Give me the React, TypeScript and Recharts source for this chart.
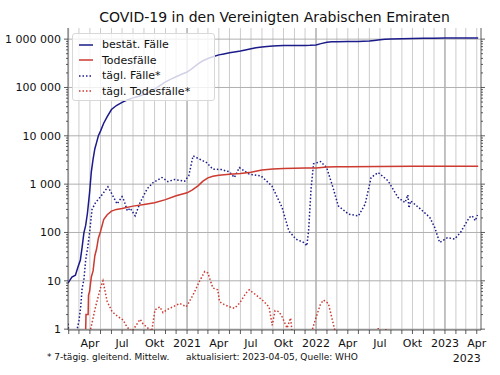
import React from "react";
import { LineChart, Line, XAxis, YAxis, ReferenceLine } from "recharts";

const FONT = "DejaVu Sans, Verdana, sans-serif";
const NAVY = "#1b1b8a";
const RED = "#cc3a30";

const DAY = 86400000;
const T0 = Date.UTC(2020, 0, 1);
const day = (s: string) => Math.round((Date.parse(s) - T0) / DAY);

// bestät. Fälle (kumuliert)
const confirmed: [string, number][] = [
  ["2020-01-30", 9], ["2020-02-10", 12], ["2020-02-20", 13], ["2020-02-27", 19],
  ["2020-03-05", 27], ["2020-03-10", 50], ["2020-03-15", 98], ["2020-03-20", 140],
  ["2020-03-25", 250], ["2020-03-31", 660], ["2020-04-05", 1800], ["2020-04-10", 3300],
  ["2020-04-15", 5400], ["2020-04-20", 7300], ["2020-04-25", 10000], ["2020-05-01", 12500],
  ["2020-05-10", 18200], ["2020-05-20", 25000], ["2020-06-01", 35000], ["2020-06-15", 42300],
  ["2020-07-01", 49000], ["2020-07-15", 55000], ["2020-08-01", 61000], ["2020-08-15", 64900],
  ["2020-09-01", 71500], ["2020-09-15", 80000], ["2020-10-01", 92000], ["2020-10-15", 108000],
  ["2020-11-01", 131000], ["2020-11-15", 147000], ["2020-12-01", 167000], ["2020-12-15", 186000],
  ["2021-01-01", 209000], ["2021-01-15", 246000], ["2021-02-01", 307000], ["2021-02-15", 357000],
  ["2021-03-01", 397000], ["2021-03-15", 432000], ["2021-04-01", 473000], ["2021-04-15", 495000],
  ["2021-05-01", 522000], ["2021-05-15", 542000], ["2021-06-01", 567000], ["2021-06-15", 596000],
  ["2021-07-01", 631000], ["2021-07-15", 661000], ["2021-08-01", 689000], ["2021-08-15", 708000],
  ["2021-09-01", 724000], ["2021-09-15", 732000], ["2021-10-01", 736000], ["2021-11-01", 740000],
  ["2021-12-01", 742000], ["2021-12-15", 744000], ["2022-01-01", 760000], ["2022-01-15", 808000],
  ["2022-02-01", 861000], ["2022-02-15", 878000], ["2022-03-01", 886000], ["2022-04-01", 893000],
  ["2022-05-01", 898000], ["2022-05-15", 903000], ["2022-06-01", 913000], ["2022-06-15", 936000],
  ["2022-07-01", 967000], ["2022-07-15", 990000], ["2022-08-01", 1005000], ["2022-09-01", 1018000],
  ["2022-10-01", 1030000], ["2022-11-01", 1041000], ["2022-12-01", 1046000], ["2023-01-01", 1050000],
  ["2023-02-01", 1053000], ["2023-03-01", 1056000], ["2023-04-05", 1061000],
];

// Todesfälle (kumuliert)
const deaths: [string, number][] = [
  ["2020-03-20", 1], ["2020-03-21", 2], ["2020-03-27", 2], ["2020-03-28", 5],
  ["2020-03-31", 6], ["2020-04-05", 12], ["2020-04-10", 16], ["2020-04-15", 33],
  ["2020-04-20", 46], ["2020-04-25", 76], ["2020-05-01", 105], ["2020-05-10", 185],
  ["2020-05-20", 233], ["2020-06-01", 276], ["2020-06-15", 300], ["2020-07-01", 315],
  ["2020-08-01", 351], ["2020-09-01", 378], ["2020-10-01", 413], ["2020-11-01", 478],
  ["2020-12-01", 577], ["2021-01-01", 661], ["2021-01-15", 750], ["2021-02-01", 920],
  ["2021-02-15", 1150], ["2021-03-01", 1350], ["2021-03-15", 1450], ["2021-04-01", 1525],
  ["2021-05-01", 1605], ["2021-06-01", 1661], ["2021-07-01", 1755], ["2021-08-01", 1964],
  ["2021-09-01", 2051], ["2021-10-01", 2112], ["2021-11-01", 2137], ["2021-12-01", 2146],
  ["2022-01-01", 2164], ["2022-02-01", 2264], ["2022-03-01", 2299], ["2022-04-01", 2302],
  ["2022-07-01", 2319], ["2022-10-01", 2340], ["2023-01-01", 2348], ["2023-04-05", 2349],
];

// tägl. Fälle* (7-Tage-Mittel)
const dailyCases: [string, number][] = [
  ["2020-01-30", 1.3], ["2020-02-04", 0.5], ["2020-02-22", 0.5], ["2020-02-25", 1],
  ["2020-03-01", 1.5], ["2020-03-06", 2.9], ["2020-03-10", 7], ["2020-03-15", 10.5],
  ["2020-03-20", 27], ["2020-03-26", 50], ["2020-04-01", 114], ["2020-04-07", 300],
  ["2020-04-17", 415], ["2020-05-01", 550], ["2020-05-12", 700], ["2020-05-22", 880],
  ["2020-06-01", 650], ["2020-06-17", 390], ["2020-07-01", 550], ["2020-07-07", 450],
  ["2020-07-16", 280], ["2020-07-24", 320], ["2020-08-07", 220], ["2020-08-21", 415],
  ["2020-09-10", 800], ["2020-09-27", 1080], ["2020-10-22", 1370], ["2020-11-08", 1130],
  ["2020-11-27", 1250], ["2020-12-25", 1150], ["2021-01-06", 1500], ["2021-01-18", 3850],
  ["2021-02-05", 3300], ["2021-02-25", 2800], ["2021-03-15", 2040], ["2021-04-08", 2000],
  ["2021-05-01", 1800], ["2021-05-15", 1370], ["2021-05-29", 2200], ["2021-06-26", 1610],
  ["2021-07-29", 1485], ["2021-08-29", 920], ["2021-09-27", 330], ["2021-10-16", 108],
  ["2021-11-05", 73], ["2021-11-27", 62], ["2021-12-06", 53], ["2021-12-11", 108],
  ["2021-12-18", 800], ["2021-12-25", 2630], ["2022-01-14", 2930], ["2022-01-31", 2210],
  ["2022-02-17", 900], ["2022-03-05", 355], ["2022-04-03", 240], ["2022-05-01", 220],
  ["2022-05-20", 385], ["2022-06-06", 1370], ["2022-06-26", 1740], ["2022-07-24", 1170],
  ["2022-08-21", 530], ["2022-09-10", 415], ["2022-09-18", 600], ["2022-09-21", 320],
  ["2022-09-26", 450], ["2022-10-25", 300], ["2022-11-19", 205], ["2022-12-03", 127],
  ["2022-12-17", 62], ["2023-01-08", 78], ["2023-01-28", 73], ["2023-02-14", 100],
  ["2023-03-11", 205], ["2023-03-19", 220], ["2023-03-28", 175], ["2023-04-03", 230],
];

// tägl. Todesfälle* (7-Tage-Mittel)
const dailyDeaths: [string, number][] = [
  ["2020-04-03", 1], ["2020-04-17", 2.9], ["2020-05-01", 7.1], ["2020-05-08", 10],
  ["2020-05-20", 3.7], ["2020-06-03", 2.3], ["2020-06-20", 1.8], ["2020-07-04", 1.55],
  ["2020-07-15", 1.1], ["2020-07-29", 0.9], ["2020-08-10", 1.2], ["2020-08-21", 1.6],
  ["2020-08-29", 1.3], ["2020-09-09", 1.1], ["2020-09-23", 0.9], ["2020-10-02", 2.5],
  ["2020-10-16", 2.9], ["2020-10-25", 2.2], ["2020-11-04", 2.5], ["2020-11-22", 2.9],
  ["2020-12-11", 3.4], ["2020-12-30", 2.9], ["2021-01-18", 5.1], ["2021-02-05", 9.7],
  ["2021-02-20", 15.6], ["2021-03-01", 14.5], ["2021-03-15", 7.1], ["2021-03-29", 6.5],
  ["2021-04-03", 3.7], ["2021-04-17", 3.2], ["2021-05-01", 2.9], ["2021-05-15", 2.7],
  ["2021-05-29", 3.4], ["2021-06-17", 5.6], ["2021-06-26", 6.5], ["2021-07-15", 5.1],
  ["2021-08-02", 4.0], ["2021-08-21", 2.9], ["2021-08-30", 1.2], ["2021-09-07", 2.4],
  ["2021-09-18", 2.3], ["2021-09-27", 1.8], ["2021-10-11", 1.05], ["2021-10-21", 1.7],
  ["2021-10-25", 0.9], ["2021-10-30", 0.5], ["2021-12-14", 0.5], ["2021-12-21", 0.95],
  ["2021-12-30", 1.56], ["2022-01-13", 3.2], ["2022-01-22", 4.0], ["2022-02-05", 3.4],
  ["2022-02-24", 0.9], ["2022-02-28", 0.5], ["2022-06-20", 0.5], ["2022-06-26", 1.05],
  ["2022-07-01", 0.5], ["2022-07-15", 0.5], ["2022-07-18", 1.0], ["2022-07-22", 0.5],
  ["2023-04-05", 0.5],
];

const MONTH_LABELS = ["", "", "", "Apr", "", "", "Jul", "", "", "Okt", "", ""];
const MAJOR_Y = [1, 10, 100, 1000, 10000, 100000, 1000000];
const MINOR_Y = [0, 1, 2, 3, 4, 5].flatMap((k) =>
  [2, 3, 4, 5, 6, 7, 8, 9].map((m) => m * Math.pow(10, k))
);

const toRows = (arr: [string, number][]) => arr.map(([s, v]) => ({ t: day(s), v }));

const monthStarts: { t: number; y: number; m: number }[] = [];
for (let y = 2020; y <= 2023; y++) {
  for (let m = 0; m < 12; m++) {
    const t = (Date.UTC(y, m, 1) - T0) / DAY;
    if (t >= 31 && t <= 1196) monthStarts.push({ t, y, m });
  }
}

const fmtY = (v: number) => String(v).replace(/\B(?=(\d{3})+(?!\d))/g, " ");

function XTick(props: any) {
  const { x, y, payload } = props;
  const ms = monthStarts.find((o) => o.t === payload.value);
  if (!ms) return null;
  const label = ms.m === 0 ? String(ms.y) : MONTH_LABELS[ms.m];
  const last = ms === monthStarts[monthStarts.length - 1];
  return (
    <g>
      <line x1={x} x2={x} y1={y} y2={y + 4} stroke="#333" strokeWidth={0.8} />
      {label && (
        <text x={x} y={y + 17} textAnchor="middle" fontSize={11} fontFamily={FONT} fill="#111">
          {label}
        </text>
      )}
      {last && (
        <text x={x + 4} y={y + 32} textAnchor="end" fontSize={11} fontFamily={FONT} fill="#111">
          {ms.y}
        </text>
      )}
    </g>
  );
}

function YTickLeft(props: any) {
  const { x, y, payload } = props;
  const major = MAJOR_Y.includes(payload.value);
  const len = major ? 4 : 2;
  return (
    <g>
      <line x1={x - len} x2={x} y1={y} y2={y} stroke="#333" strokeWidth={0.8} />
      {major && (
        <text x={x - 7} y={y + 4} textAnchor="end" fontSize={11} fontFamily={FONT} fill="#111">
          {fmtY(payload.value)}
        </text>
      )}
    </g>
  );
}

function YTickRight(props: any) {
  const { x, y, payload } = props;
  const major = MAJOR_Y.includes(payload.value);
  const len = major ? 4 : 2;
  return <line x1={x} x2={x + len} y1={y} y2={y} stroke="#333" strokeWidth={0.8} />;
}

const legendItems = [
  { label: "bestät. Fälle", color: NAVY, dotted: false },
  { label: "Todesfälle", color: RED, dotted: false },
  { label: "tägl. Fälle*", color: NAVY, dotted: true },
  { label: "tägl. Todesfälle*", color: RED, dotted: true },
];

export default function App() {
  const yTicks = [...MAJOR_Y, ...MINOR_Y].sort((a, b) => a - b);
  const xDomain = [29, 1198];
  const yDomain = [0.96, 1700000];
  return (
    <div style={{ position: "absolute", left: 0, top: 0, width: 500, height: 375, background: "#fff", fontFamily: FONT }}>
      <LineChart width={500} height={375} margin={{ top: 28, right: 9, bottom: 15, left: 8 }}>
        <XAxis
          dataKey="t"
          type="number"
          domain={xDomain}
          allowDataOverflow
          ticks={monthStarts.map((o) => o.t)}
          tick={<XTick />}
          tickLine={false}
          tickSize={0}
          tickMargin={0}
          interval={0}
          height={30}
          axisLine={{ stroke: "#333", strokeWidth: 0.8 }}
        />
        <XAxis xAxisId="top" orientation="top" type="number" domain={xDomain} height={0} tick={false} tickLine={false} axisLine={{ stroke: "#333", strokeWidth: 0.8 }} />
        <YAxis
          scale="log"
          domain={yDomain}
          allowDataOverflow
          ticks={yTicks}
          interval={0}
          tick={<YTickLeft />}
          tickLine={false}
          tickSize={0}
          tickMargin={0}
          width={60}
          axisLine={{ stroke: "#333", strokeWidth: 0.8 }}
        />
        <YAxis
          yAxisId="right"
          orientation="right"
          scale="log"
          domain={yDomain}
          allowDataOverflow
          ticks={yTicks}
          interval={0}
          tick={<YTickRight />}
          tickLine={false}
          tickSize={0}
          tickMargin={0}
          width={10}
          axisLine={{ stroke: "#333", strokeWidth: 0.8 }}
        />
        {monthStarts.map((o) => (
          <ReferenceLine
            key={"m" + o.t}
            x={o.t}
            stroke={o.m === 0 ? "#9a9a9a" : "#cccccc"}
            strokeWidth={o.m === 0 ? 1.2 : 1}
          />
        ))}
        {MAJOR_Y.map((v) => (
          <ReferenceLine key={"h" + v} y={v} stroke="#b0b0b0" strokeWidth={1} />
        ))}
        <Line data={toRows(dailyDeaths)} dataKey="v" type="linear" stroke={RED} strokeWidth={1.5} strokeDasharray="1.5 2" dot={false} isAnimationActive={false} />
        <Line data={toRows(dailyCases)} dataKey="v" type="linear" stroke={NAVY} strokeWidth={1.5} strokeDasharray="1.5 2" dot={false} isAnimationActive={false} />
        <Line data={toRows(deaths)} dataKey="v" type="linear" stroke={RED} strokeWidth={1.5} dot={false} isAnimationActive={false} />
        <Line data={toRows(confirmed)} dataKey="v" type="linear" stroke={NAVY} strokeWidth={1.5} dot={false} isAnimationActive={false} />
      </LineChart>

      <div style={{ position: "absolute", left: 68, top: 9, width: 413, textAlign: "center", fontSize: 14, lineHeight: "16px", color: "#111" }}>
        COVID-19 in den Vereinigten Arabischen Emiraten
      </div>

      <div
        style={{
          position: "absolute", left: 72, top: 33, width: 141, height: 66,
          background: "rgba(255,255,255,0.8)", border: "1px solid #d8d8d8", borderRadius: 3,
        }}
      >
        {legendItems.map((it, i) => (
          <div key={it.label} style={{ position: "absolute", left: 6, top: 3 + i * 15.5, height: 15, display: "flex", alignItems: "center", fontSize: 11, color: "#111", whiteSpace: "nowrap" }}>
            <svg width={14} height={4} style={{ marginRight: 9 }}>
              <line x1={0} x2={14} y1={2} y2={2} stroke={it.color} strokeWidth={1.5} strokeDasharray={it.dotted ? "1.5 2" : undefined} />
            </svg>
            {it.label}
          </div>
        ))}
      </div>

      <div style={{ position: "absolute", left: 47, top: 352, fontSize: 9, lineHeight: "10px", color: "#111", whiteSpace: "nowrap" }}>
        * 7-tägig. gleitend. Mittelw.
      </div>
      <div style={{ position: "absolute", left: 186, top: 352, fontSize: 9, lineHeight: "10px", color: "#111", whiteSpace: "nowrap" }}>
        aktualisiert: 2023-04-05, Quelle: WHO
      </div>
    </div>
  );
}
